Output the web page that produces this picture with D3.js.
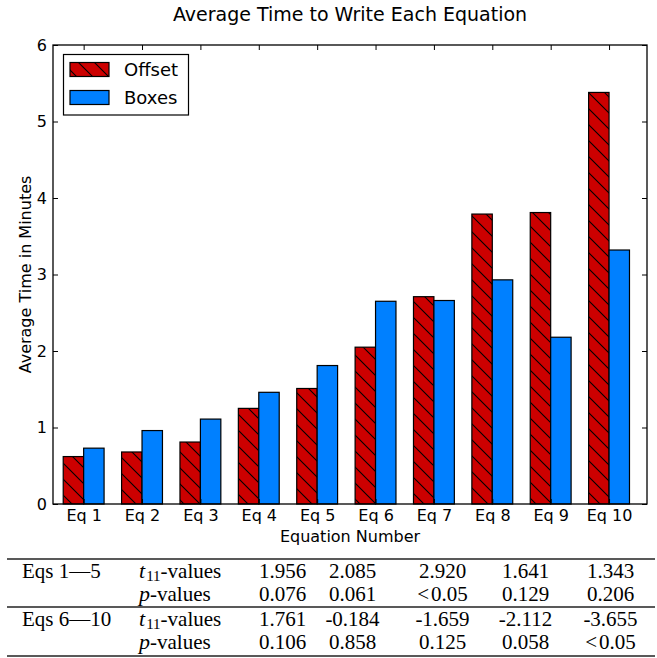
<!DOCTYPE html>
<html>
<head>
<meta charset="utf-8">
<script src="https://cdn.jsdelivr.net/npm/d3@7/dist/d3.min.js"></script>
<style>
  html, body { margin: 0; padding: 0; background: #fff; }
  svg { display: block; }
  .sans { font-family: "DejaVu Sans", sans-serif; }
  .serif { font-family: "Liberation Serif", "DejaVu Serif", serif; }
</style>
</head>
<body>
<script>
// Average writing time per equation, two entry methods
const categories = ["Eq 1", "Eq 2", "Eq 3", "Eq 4", "Eq 5", "Eq 6", "Eq 7", "Eq 8", "Eq 9", "Eq 10"];
const offsetTimes = [0.62, 0.68, 0.81, 1.25, 1.51, 2.05, 2.71, 3.79, 3.81, 5.38];
const boxesTimes  = [0.73, 0.96, 1.11, 1.46, 1.81, 2.65, 2.66, 2.93, 2.18, 3.32];
const yTicks = [0, 1, 2, 3, 4, 5, 6];
const seriesNames = ["Offset", "Boxes"];

// Paired t-test summary table
const groupLabels = ["Eqs 1\u20145", "Eqs 6\u201410"];
const tValues1 = ["1.956", "2.085", "2.920", "1.641", "1.343"];
const pValues1 = ["0.076", "0.061", "<0.05", "0.129", "0.206"];
const tValues2 = ["1.761", "-0.184", "-1.659", "-2.112", "-3.655"];
const pValues2 = ["0.106", "0.858", "0.125", "0.058", "<0.05"];

const W = 657, H = 658;
const plot = { left: 53, right: 647, top: 45, bottom: 504 };
const barW = 0.35;
const red = "#cc0000", blue = "#0080ff";

const svg = d3.select("body").append("svg").attr("width", W).attr("height", H);

// Diagonal hatch for the Offset series
const hp = 16;
const defs = svg.append("defs");
const pat = defs.append("pattern")
  .attr("id", "hatch").attr("patternUnits", "userSpaceOnUse")
  .attr("width", hp).attr("height", hp);
pat.append("rect").attr("width", hp).attr("height", hp).attr("fill", red);
pat.append("path")
  .attr("d", `M-4,-4 L${hp + 4},${hp + 4} M-4,${hp - 4} L4,${hp + 4} M${hp - 4},-4 L${hp + 4},4`)
  .attr("stroke", "#000").attr("stroke-width", 1.1);

const x = d3.scaleLinear().domain([-0.175, 10]).range([plot.left, plot.right]);
const y = d3.scaleLinear().domain([0, 6]).range([plot.bottom, plot.top]);

const idx = d3.range(categories.length);

// Bars
svg.append("g").selectAll("rect").data(idx).join("rect")
  .attr("x", i => x(i)).attr("width", i => x(i + barW) - x(i))
  .attr("y", i => y(offsetTimes[i])).attr("height", i => y(0) - y(offsetTimes[i]))
  .attr("fill", "url(#hatch)").attr("stroke", "#000").attr("stroke-width", 1.2);

svg.append("g").selectAll("rect").data(idx).join("rect")
  .attr("x", i => x(i + barW)).attr("width", i => x(i + 2 * barW) - x(i + barW))
  .attr("y", i => y(boxesTimes[i])).attr("height", i => y(0) - y(boxesTimes[i]))
  .attr("fill", blue).attr("stroke", "#000").attr("stroke-width", 1.2);

// Axes with inward ticks on all four sides
const tickPos = idx.map(i => i + barW);
const xAxisB = d3.axisBottom(x).tickValues(tickPos).tickFormat((d, i) => categories[i])
  .tickSizeInner(-5).tickSizeOuter(0).tickPadding(6);
const xAxisT = d3.axisTop(x).tickValues(tickPos).tickFormat("")
  .tickSizeInner(-5).tickSizeOuter(0);
const yAxisL = d3.axisLeft(y).tickValues(yTicks).tickFormat(d3.format("d"))
  .tickSizeInner(-5).tickSizeOuter(0).tickPadding(6);
const yAxisR = d3.axisRight(y).tickValues(yTicks).tickFormat("")
  .tickSizeInner(-5).tickSizeOuter(0);

function styleAxis(g) {
  g.select(".domain").remove();
  g.selectAll(".tick line").attr("stroke", "#000").attr("stroke-width", 1);
  g.selectAll(".tick text").attr("fill", "#000")
    .attr("font-family", "DejaVu Sans, sans-serif").attr("font-size", 16);
}

svg.append("g").attr("transform", `translate(0,${plot.bottom})`).call(xAxisB).call(styleAxis);
svg.append("g").attr("transform", `translate(0,${plot.top})`).call(xAxisT).call(styleAxis);
svg.append("g").attr("transform", `translate(${plot.left},0)`).call(yAxisL).call(styleAxis);
svg.append("g").attr("transform", `translate(${plot.right},0)`).call(yAxisR).call(styleAxis);

// Frame
svg.append("rect")
  .attr("x", plot.left).attr("y", plot.top)
  .attr("width", plot.right - plot.left).attr("height", plot.bottom - plot.top)
  .attr("fill", "none").attr("stroke", "#000").attr("stroke-width", 1.3);

// Titles
svg.append("text").attr("class", "sans")
  .attr("x", (plot.left + plot.right) / 2).attr("y", 21)
  .attr("text-anchor", "middle").attr("font-size", 19).text("Average Time to Write Each Equation");
svg.append("text").attr("class", "sans")
  .attr("x", (plot.left + plot.right) / 2).attr("y", 542)
  .attr("text-anchor", "middle").attr("font-size", 16).text("Equation Number");
svg.append("text").attr("class", "sans")
  .attr("transform", `translate(31,${(plot.top + plot.bottom) / 2}) rotate(-90)`)
  .attr("text-anchor", "middle").attr("font-size", 16).text("Average Time in Minutes");

// Legend
const lg = svg.append("g");
lg.append("rect").attr("x", 63.5).attr("y", 54.5).attr("width", 125).attr("height", 60.5)
  .attr("fill", "#fff").attr("stroke", "#000").attr("stroke-width", 1.2);
const legendFills = ["url(#hatch)", blue];
seriesNames.forEach((name, k) => {
  const yy = 62.5 + k * 28;
  lg.append("rect").attr("x", 70).attr("y", yy).attr("width", 39).attr("height", 14)
    .attr("fill", legendFills[k]).attr("stroke", "#000").attr("stroke-width", 1.2);
  lg.append("text").attr("class", "sans").attr("x", 124).attr("y", yy + 13)
    .attr("font-size", 18).text(name);
});

// Statistics table
const tbl = svg.append("g").attr("class", "serif").attr("font-size", 21).attr("fill", "#000");
[559, 607, 656].forEach(ly => {
  tbl.append("line").attr("x1", 7).attr("x2", 655).attr("y1", ly).attr("y2", ly)
    .attr("stroke", "#222").attr("stroke-width", 1.4);
});
const colCenters = [282.5, 352.5, 442.5, 525.5, 610.5];
const rows = [
  { label: groupLabels[0], kind: "t", vals: tValues1, base: 578 },
  { label: "", kind: "p", vals: pValues1, base: 601 },
  { label: groupLabels[1], kind: "t", vals: tValues2, base: 626 },
  { label: "", kind: "p", vals: pValues2, base: 649 }
];
rows.forEach(r => {
  if (r.label) tbl.append("text").attr("x", 22).attr("y", r.base).text(r.label);
  const head = tbl.append("text").attr("x", 139).attr("y", r.base);
  if (r.kind === "t") {
    head.append("tspan").attr("font-style", "italic").attr("font-size", 22).text("t");
    head.append("tspan").attr("font-size", 15).attr("dx", 1).attr("dy", 3).text("11");
    head.append("tspan").attr("dy", -3).text("-values");
  } else {
    head.append("tspan").attr("font-style", "italic").attr("font-size", 22).text("p");
    head.append("tspan").text("-values");
  }
  r.vals.forEach((v, j) => {
    const t = tbl.append("text").attr("x", colCenters[j]).attr("y", r.base)
      .attr("text-anchor", "middle");
    if (v.startsWith("<")) {
      t.append("tspan").text("<");
      t.append("tspan").attr("dx", 2).text(v.slice(1));
    } else {
      t.text(v);
    }
  });
});
</script>
</body>
</html>
